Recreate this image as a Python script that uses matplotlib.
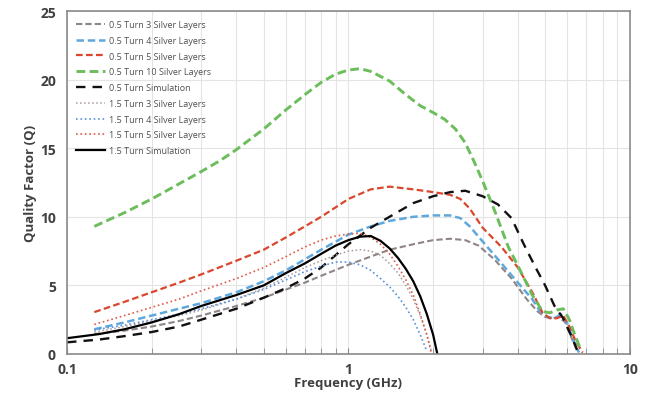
import numpy as np
import matplotlib.pyplot as plt
from matplotlib.ticker import LogLocator, NullFormatter

# 0.5 Turn 测量数据 (GHz, Q)
f_05_3 = [0.125, 0.16, 0.2, 0.25, 0.3, 0.4, 0.5, 0.6, 0.7, 0.8, 1.0, 1.2, 1.4, 1.7, 2.0, 2.3, 2.6, 2.9, 3.3, 3.8, 4.3, 4.7, 5.0, 5.3, 5.6, 5.9, 6.2, 6.5]
q_05_3 = [1.45, 1.7, 2.0, 2.4, 2.8, 3.5, 4.1, 4.7, 5.2, 5.7, 6.5, 7.1, 7.6, 8.0, 8.3, 8.4, 8.3, 7.9, 6.9, 5.5, 4.0, 3.1, 2.7, 2.6, 2.7, 2.3, 1.2, 0.2]

f_05_4 = [0.125, 0.16, 0.2, 0.25, 0.3, 0.4, 0.5, 0.6, 0.7, 0.8, 1.0, 1.2, 1.4, 1.7, 2.0, 2.3, 2.5, 2.7, 3.0, 3.5, 4.0, 4.5, 4.8, 5.1, 5.4, 5.7, 6.0, 6.3, 6.6]
q_05_4 = [1.8, 2.3, 2.8, 3.3, 3.7, 4.5, 5.3, 6.1, 6.9, 7.6, 8.7, 9.3, 9.7, 10.0, 10.1, 10.1, 9.9, 9.3, 8.2, 6.6, 5.2, 4.0, 3.1, 2.7, 2.6, 2.9, 2.2, 1.0, 0.1]

f_05_5 = [0.125, 0.16, 0.2, 0.25, 0.3, 0.4, 0.5, 0.6, 0.7, 0.8, 1.0, 1.2, 1.4, 1.7, 2.0, 2.3, 2.5, 2.7, 3.0, 3.5, 4.0, 4.5, 4.9, 5.2, 5.5, 5.8, 6.1, 6.4, 6.8]
q_05_5 = [3.05, 3.8, 4.5, 5.2, 5.8, 6.8, 7.6, 8.5, 9.3, 10.0, 11.3, 12.0, 12.2, 12.0, 11.8, 11.6, 11.3, 10.6, 9.2, 7.8, 6.3, 4.5, 3.0, 2.6, 2.6, 2.8, 2.0, 1.0, 0.1]

f_05_10 = [0.125, 0.16, 0.2, 0.25, 0.3, 0.35, 0.4, 0.5, 0.6, 0.7, 0.8, 0.9, 1.0, 1.1, 1.2, 1.4, 1.6, 1.8, 2.0, 2.2, 2.4, 2.6, 2.8, 3.0, 3.3, 3.7, 4.1, 4.5, 4.9, 5.2, 5.5, 5.8, 6.1, 6.4, 6.7]
q_05_10 = [9.3, 10.3, 11.3, 12.4, 13.3, 14.1, 14.9, 16.4, 17.8, 18.9, 19.8, 20.4, 20.7, 20.8, 20.6, 19.9, 18.9, 18.1, 17.6, 17.1, 16.4, 15.4, 14.0, 12.6, 10.5, 7.8, 6.0, 4.3, 3.1, 3.0, 3.2, 3.3, 2.5, 1.3, 0.3]

f_05_sim = [0.1, 0.13, 0.16, 0.2, 0.25, 0.3, 0.4, 0.5, 0.6, 0.7, 0.8, 0.9, 1.0, 1.2, 1.4, 1.7, 2.0, 2.3, 2.6, 3.0, 3.4, 3.8, 4.2, 4.6, 5.0, 5.4, 5.8, 6.2, 6.5]
q_05_sim = [0.85, 1.05, 1.3, 1.6, 2.0, 2.5, 3.3, 4.1, 4.8, 5.5, 6.3, 7.2, 8.0, 9.2, 10.0, 11.0, 11.5, 11.8, 11.9, 11.5, 10.9, 9.9, 8.0, 6.4, 5.0, 3.5, 2.6, 1.3, 0.3]

# 1.5 Turn
f_15_3 = [0.125, 0.16, 0.2, 0.25, 0.3, 0.4, 0.5, 0.6, 0.7, 0.8, 0.9, 1.0, 1.1, 1.2, 1.3, 1.4, 1.5, 1.6, 1.7, 1.8, 1.9, 1.97]
q_15_3 = [1.6, 2.0, 2.4, 2.8, 3.2, 4.0, 4.8, 5.6, 6.3, 6.8, 7.2, 7.5, 7.6, 7.5, 7.2, 6.6, 5.9, 5.0, 4.0, 2.8, 1.4, 0.2]

f_15_4 = [0.125, 0.16, 0.2, 0.25, 0.3, 0.4, 0.5, 0.6, 0.7, 0.8, 0.9, 1.0, 1.1, 1.2, 1.3, 1.4, 1.5, 1.6, 1.7, 1.8, 1.9]
q_15_4 = [1.75, 2.1, 2.5, 2.9, 3.3, 4.0, 4.7, 5.4, 6.0, 6.4, 6.7, 6.7, 6.5, 6.1, 5.5, 4.9, 4.2, 3.4, 2.5, 1.4, 0.2]

f_15_5 = [0.125, 0.16, 0.2, 0.25, 0.3, 0.4, 0.5, 0.6, 0.7, 0.8, 0.9, 1.0, 1.1, 1.2, 1.3, 1.4, 1.5, 1.6, 1.7, 1.8, 1.9, 1.97]
q_15_5 = [2.15, 2.8, 3.4, 4.0, 4.6, 5.5, 6.3, 7.1, 7.8, 8.3, 8.6, 8.75, 8.8, 8.5, 8.0, 7.3, 6.4, 5.4, 4.3, 2.9, 1.4, 0.1]

f_15_sim = [0.1, 0.13, 0.16, 0.2, 0.25, 0.3, 0.4, 0.5, 0.6, 0.7, 0.8, 0.9, 1.0, 1.1, 1.2, 1.3, 1.4, 1.5, 1.6, 1.7, 1.8, 1.9, 2.0, 2.07]
q_15_sim = [1.15, 1.45, 1.8, 2.3, 2.9, 3.5, 4.3, 5.0, 5.9, 6.6, 7.3, 7.9, 8.3, 8.55, 8.6, 8.25, 7.7, 7.0, 6.2, 5.3, 4.2, 2.9, 1.4, 0.0]

plt.rcParams['font.family'] = ['Open Sans', 'DejaVu Sans']
txt = '#404040'

fig = plt.figure(figsize=(6.54, 4.02), dpi=100)
ax = fig.add_axes([0.1025, 0.117, 0.8605, 0.853])

ax.plot(f_05_3, q_05_3, color='#8f8585', lw=1.5, dashes=(3, 1.5), label='0.5 Turn 3 Silver Layers')
ax.plot(f_05_4, q_05_4, color='#5fa8de', lw=1.8, dashes=(3, 1.5), label='0.5 Turn 4 Silver Layers')
ax.plot(f_05_5, q_05_5, color='#d9472c', lw=1.6, dashes=(3, 1.5), label='0.5 Turn 5 Silver Layers')
ax.plot(f_05_10, q_05_10, color='#6cbd5c', lw=2.1, dashes=(3, 1.5), label='0.5 Turn 10 Silver Layers')
ax.plot(f_05_sim, q_05_sim, color='#111111', lw=1.7, dashes=(4, 3), label='0.5 Turn Simulation')
ax.plot(f_15_3, q_15_3, color='#a89898', lw=1.1, ls=':', label='1.5 Turn 3 Silver Layers')
ax.plot(f_15_4, q_15_4, color='#5b8fd8', lw=1.2, ls=':', label='1.5 Turn 4 Silver Layers')
ax.plot(f_15_5, q_15_5, color='#e05a48', lw=1.2, ls=':', label='1.5 Turn 5 Silver Layers')
ax.plot(f_15_sim, q_15_sim, color='#000000', lw=1.6, label='1.5 Turn Simulation')

ax.set_xscale('log')
ax.set_xlim(0.1, 10)
ax.set_ylim(0, 25)
ax.set_yticks([0, 5, 10, 15, 20, 25])
ax.set_xticks([0.1, 1, 10])
ax.set_xticklabels(['0.1', '1', '10'])
ax.xaxis.set_minor_locator(LogLocator(base=10, subs=np.arange(2, 10)))
ax.xaxis.set_minor_formatter(NullFormatter())

ax.grid(True, which='both', axis='x', color='#e4e4e4', lw=0.8)
ax.grid(True, which='major', axis='y', color='#e4e4e4', lw=0.8)
ax.set_axisbelow(True)

for s in ax.spines.values():
    s.set_color('#8a8a8a')
    s.set_linewidth(1.2)

ax.tick_params(axis='x', which='both', direction='in', length=4, color='#8a8a8a', pad=6)
ax.tick_params(axis='y', length=0, pad=8)
ax.tick_params(labelsize=10, labelcolor=txt)
for lab in ax.get_xticklabels() + ax.get_yticklabels():
    lab.set_fontweight('bold')

ax.set_xlabel('Frequency (GHz)', fontsize=9.5, fontweight='bold', color=txt, labelpad=0)
ax.set_ylabel('Quality Factor (Q)', fontsize=9.5, fontweight='bold', color=txt, labelpad=2)

leg = ax.legend(loc='upper left', frameon=False, fontsize=6.5, handlelength=3.2,
                labelspacing=0.75, borderaxespad=0.6, handletextpad=0.5)
for t in leg.get_texts():
    t.set_color('#505050')

fig.savefig('out.png', dpi=100)
